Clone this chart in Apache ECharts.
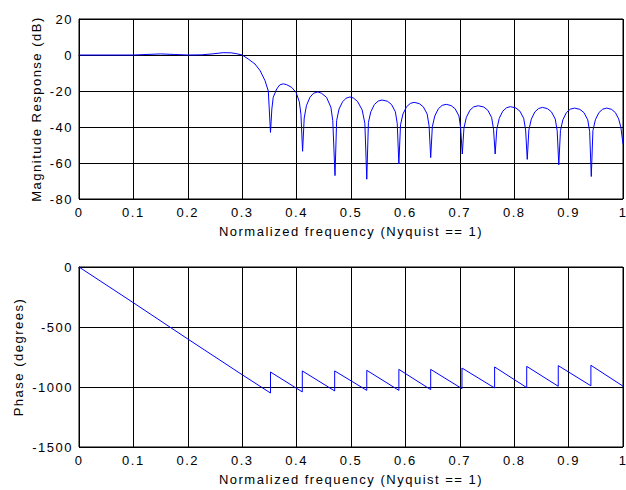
<!DOCTYPE html>
<html><head><meta charset="utf-8">
<script src="https://cdn.jsdelivr.net/npm/echarts@6/dist/echarts.min.js"></script>
<style>
html,body{margin:0;padding:0;background:#fff;}
#c{width:626px;height:490px;}
#c text{letter-spacing:1.5px;}
</style></head><body><div id="c"></div>
<script>
// Frequency ticks and axis ranges
const freqTicks = [0, 0.1, 0.2, 0.3, 0.4, 0.5, 0.6, 0.7, 0.8, 0.9, 1];
const magTicks = [-80, -60, -40, -20, 0, 20];
const phaseTicks = [-1500, -1000, -500, 0];

// Magnitude response (dB)
const magFreq = [
  0, 0.05, 0.1, 0.125, 0.15, 0.175, 0.2, 0.225, 0.245, 0.265, 0.28, 0.29, 0.3, 0.311, 0.3235, 0.333, 0.342, 0.348, 0.352,
  0.3545, 0.357, 0.3634, 0.369, 0.3755, 0.3818, 0.391, 0.399, 0.405, 0.408, 0.411,
  0.414, 0.418, 0.4245, 0.431, 0.439, 0.446, 0.455, 0.463, 0.4665, 0.4706,
  0.4736, 0.478, 0.4845, 0.491, 0.498, 0.5045, 0.512, 0.5205, 0.5255, 0.529,
  0.532, 0.5365, 0.543, 0.550, 0.557, 0.567, 0.5745, 0.5815, 0.585, 0.588,
  0.591, 0.5955, 0.602, 0.609, 0.616, 0.6255, 0.633, 0.640, 0.6435, 0.6465,
  0.6495, 0.654, 0.6605, 0.6675, 0.675, 0.684, 0.6915, 0.6985, 0.7015, 0.7046,
  0.7076, 0.712, 0.7185, 0.7255, 0.734, 0.744, 0.7515, 0.7585, 0.762, 0.765,
  0.768, 0.7725, 0.779, 0.786, 0.793, 0.803, 0.8105, 0.8175, 0.821, 0.824,
  0.827, 0.8315, 0.838, 0.845, 0.852, 0.861, 0.8685, 0.8755, 0.879, 0.882,
  0.885, 0.8895, 0.896, 0.903, 0.911, 0.9207, 0.9282, 0.9352, 0.9387, 0.9417,
  0.9447, 0.9492, 0.9557, 0.9627, 0.970, 0.979, 0.986, 0.992, 0.996, 1.0
];
const magDb = [
  0, 0, 0, 0.3, 0.6, 0.3, 0, 0.1, 0.6, 1.3, 1.2, 0.7, 0, -2.2, -5, -8.7, -14.3, -20, -43,
  -30, -23.5, -18.9, -16.6, -16.0, -16.5, -18.0, -20.8, -26, -33, -53.5,
  -35, -28.2, -23.5, -21.3, -20.5, -21.3, -23.5, -29, -36.5, -67,
  -36.5, -30, -26, -24, -23.3, -23.9, -25.8, -30.5, -38, -69,
  -37.5, -31.5, -27.5, -25.6, -25, -25.7, -27.5, -31.5, -38, -60.5,
  -38.8, -32.8, -28.8, -26.9, -26.3, -27, -28.8, -32.8, -39.3, -57,
  -39.9, -33.9, -29.9, -28, -27.4, -28.1, -29.9, -33.9, -40.4, -55,
  -40.7, -34.7, -30.7, -28.8, -28.2, -28.9, -30.7, -34.7, -41.2, -55,
  -41.2, -35.2, -31.2, -29.3, -28.7, -29.4, -31.2, -35.2, -41.7, -58,
  -41.6, -35.6, -31.6, -29.7, -29.1, -29.8, -31.6, -35.6, -42.1, -61,
  -42, -36, -32, -30.1, -29.5, -30.2, -32, -36, -42.5, -67.5,
  -42, -36, -32, -30.1, -29.5, -30.2, -32, -35.5, -40, -49.4
];

// Phase (degrees)
const phaseFreq = [0, 0.1, 0.2, 0.3, 0.352, 0.352, 0.4105, 0.4105, 0.470, 0.470, 0.529, 0.529, 0.588, 0.588,
  0.6465, 0.6465, 0.704, 0.704, 0.764, 0.764, 0.823, 0.823, 0.881, 0.881, 0.941, 0.941, 1.0];
const phaseDeg = [0, -298, -600, -898, -1050, -875, -1041, -866, -1033, -866, -1028, -861, -1028, -853,
  -1022, -853, -1014, -842, -1008, -833, -1005, -828, -994, -822, -990, -819, -993];

const zip = (a, b) => a.map((v, i) => [v, b[i]]);
const FONT = 'Liberation Sans';
const black = '#000';

function xAxisDef(gi) {
  return {
    type: 'value', gridIndex: gi,
    min: freqTicks[0], max: freqTicks[freqTicks.length - 1], interval: 0.1,
    name: 'Normalized frequency (Nyquist == 1)', nameLocation: 'middle', nameGap: 26,
    nameTextStyle: { color: black, fontFamily: FONT, fontSize: 13 },
    axisLine: { show: true, lineStyle: { color: black, width: 1 } },
    axisTick: { show: false },
    axisLabel: { color: black, fontFamily: FONT, fontSize: 13, margin: 7,
      formatter: v => String(Math.round(v * 10) / 10) },
    splitLine: { show: true, lineStyle: { color: black, width: 1 } }
  };
}
function yAxisDef(gi, ticks, name, gap) {
  return {
    type: 'value', gridIndex: gi,
    min: ticks[0], max: ticks[ticks.length - 1], interval: ticks[1] - ticks[0],
    name: name, nameLocation: 'middle', nameGap: gap,
    nameTextStyle: { color: black, fontFamily: FONT, fontSize: 13 },
    axisLine: { show: true, onZero: false, lineStyle: { color: black, width: 1 } },
    axisTick: { show: false },
    axisLabel: { color: black, fontFamily: FONT, fontSize: 13, margin: 6,
      formatter: v => String(v) },
    splitLine: { show: true, lineStyle: { color: black, width: 1 } }
  };
}

const chart = echarts.init(document.getElementById('c'), null, { renderer: 'svg', width: 626, height: 490 });
chart.setOption({
  animation: false,
  backgroundColor: '#fff',
  grid: [
    { left: 79, right: 3, top: 19, height: 180, show: true, borderColor: black, borderWidth: 1,
      backgroundColor: 'transparent', containLabel: false, outerBoundsMode: 'none' },
    { left: 79, right: 3, top: 267, height: 180, show: true, borderColor: black, borderWidth: 1,
      backgroundColor: 'transparent', containLabel: false, outerBoundsMode: 'none' }
  ],
  xAxis: [xAxisDef(0), xAxisDef(1)],
  yAxis: [
    yAxisDef(0, magTicks, 'Magnitude Response (dB)', 36),
    yAxisDef(1, phaseTicks, 'Phase (degrees)', 54)
  ],
  series: [
    { type: 'line', xAxisIndex: 0, yAxisIndex: 0, data: zip(magFreq, magDb), showSymbol: false,
      lineStyle: { color: '#0000ff', width: 1 }, z: 5 },
    { type: 'line', xAxisIndex: 1, yAxisIndex: 1, data: zip(phaseFreq, phaseDeg), showSymbol: false,
      lineStyle: { color: '#0000ff', width: 1 }, z: 5 }
  ]
});
</script></body></html>
